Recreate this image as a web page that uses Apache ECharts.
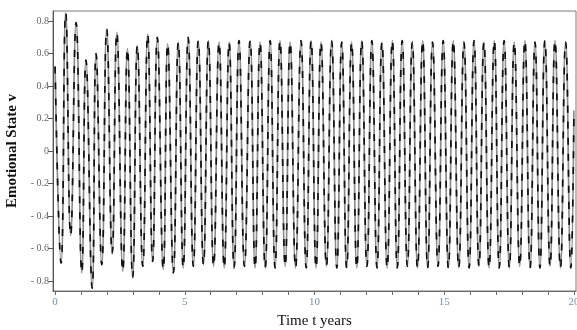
<!DOCTYPE html>
<html>
<head>
<meta charset="utf-8">
<script src="https://cdn.jsdelivr.net/npm/echarts@6/dist/echarts.min.js"></script>
<style>
  html, body { margin: 0; padding: 0; background: #fff; }
  #chart { width: 577px; height: 330px; }
</style>
</head>
<body>
<div id="chart"></div>
<script>
// Start value, then the peaks and troughs of v(t)
const startPoint = [0, 0.52]
const endPoint = [20, 0.25]

const peakTimes = [0.41, 0.81, 1.19, 1.58, 1.99, 2.38, 2.79, 3.17, 3.57, 3.94,
  4.34, 4.75, 5.13, 5.52, 5.91, 6.32, 6.71, 7.09, 7.52, 7.90,
  8.29, 8.67, 9.06, 9.48, 9.87, 10.25, 10.66, 11.05, 11.43, 11.82,
  12.21, 12.60, 13.00, 13.38, 13.77, 14.17, 14.55, 14.96, 15.35, 15.76,
  16.15, 16.53, 16.93, 17.31, 17.70, 18.11, 18.50, 18.88, 19.27, 19.68]
const peakValues = [0.85, 0.79, 0.56, 0.60, 0.75, 0.73, 0.63, 0.65, 0.72, 0.70,
  0.66, 0.67, 0.70, 0.68, 0.68, 0.67, 0.67, 0.68, 0.68, 0.67,
  0.68, 0.68, 0.67, 0.68, 0.68, 0.67, 0.68, 0.67, 0.67, 0.68,
  0.68, 0.67, 0.68, 0.68, 0.67, 0.68, 0.67, 0.68, 0.68, 0.67,
  0.68, 0.67, 0.68, 0.68, 0.67, 0.68, 0.67, 0.68, 0.68, 0.67]

const troughTimes = [0.23, 0.60, 1.03, 1.43, 1.80, 2.20, 2.61, 2.99, 3.38, 3.76,
  4.17, 4.56, 4.94, 5.33, 5.72, 6.11, 6.52, 6.90, 7.30, 7.71,
  8.10, 8.48, 8.87, 9.27, 9.68, 10.06, 10.46, 10.86, 11.24, 11.63,
  12.02, 12.41, 12.80, 13.19, 13.58, 13.97, 14.36, 14.76, 15.16, 15.56,
  15.96, 16.34, 16.73, 17.12, 17.51, 17.91, 18.31, 18.69, 19.08, 19.48, 19.88]
const troughValues = [-0.69, -0.52, -0.75, -0.845, -0.70, -0.63, -0.74, -0.78, -0.71, -0.68,
  -0.73, -0.75, -0.72, -0.71, -0.70, -0.71, -0.72, -0.72, -0.71, -0.72,
  -0.72, -0.72, -0.71, -0.72, -0.72, -0.72, -0.71, -0.72, -0.72, -0.72,
  -0.71, -0.72, -0.72, -0.72, -0.71, -0.72, -0.72, -0.71, -0.72, -0.72,
  -0.72, -0.71, -0.72, -0.72, -0.72, -0.71, -0.72, -0.72, -0.71, -0.72, -0.72]

const xTicks = [0, 1, 2, 3, 4, 5, 6, 7, 8, 9, 10, 11, 12, 13, 14, 15, 16, 17, 18, 19, 20]
const xLabels = [0, 5, 10, 15, 20]
const yTicks = [-0.8, -0.6, -0.4, -0.2, 0, 0.2, 0.4, 0.6, 0.8]

const points = [startPoint]
  .concat(peakTimes.map((t, i) => [t, peakValues[i]]))
  .concat(troughTimes.map((t, i) => [t, troughValues[i]]))
  .concat([endPoint])
  .sort((a, b) => a[0] - b[0])

const chart = echarts.init(document.getElementById("chart"))
const serif = "Liberation Serif"

chart.setOption({
  animation: false,
  backgroundColor: "#fff",
  grid: {
    left: 53, right: 1, top: 11, bottom: 39,
    containLabel: false,
    outerBoundsMode: "none",
    show: true, borderColor: "#7a7a7a", borderWidth: 1
  },
  xAxis: {
    type: "value",
    min: -0.08,
    max: 20.08,
    name: "Time t years",
    nameLocation: "middle",
    nameGap: 23,
    nameTextStyle: { fontFamily: serif, fontSize: 15, color: "#111" },
    axisLine: { onZero: false, lineStyle: { color: "#6a6a6a" } },
    axisTick: { customValues: xTicks, length: 4, lineStyle: { color: "#6a6a6a" } },
    axisLabel: {
      customValues: xLabels, margin: 6,
      fontFamily: serif, fontSize: 11, color: "#7d8fa6"
    },
    splitLine: { show: false }
  },
  yAxis: {
    type: "value",
    min: -0.862,
    max: 0.862,
    name: "Emotional State v",
    nameLocation: "middle",
    nameGap: 28,
    nameTextStyle: { fontFamily: serif, fontSize: 15, fontWeight: "bold", color: "#111" },
    axisLine: { show: true, onZero: false, lineStyle: { color: "#555" } },
    axisTick: { show: true, customValues: yTicks, length: 5, lineStyle: { color: "#555" } },
    axisLabel: {
      customValues: yTicks, margin: 4,
      fontFamily: serif, fontSize: 10, color: "#666",
      formatter: (v) => (v < 0 ? "- " + Math.abs(v) : String(v))
    },
    splitLine: { show: false }
  },
  series: [
    {
      type: "line",
      data: points,
      smooth: true,
      showSymbol: false,
      lineStyle: { color: "#8c8c8c", width: 1.7 }
    },
    {
      type: "line",
      data: points,
      smooth: true,
      showSymbol: false,
      lineStyle: { color: "#111", width: 1.7, type: [7, 9] }
    }
  ]
})
</script>
</body>
</html>
